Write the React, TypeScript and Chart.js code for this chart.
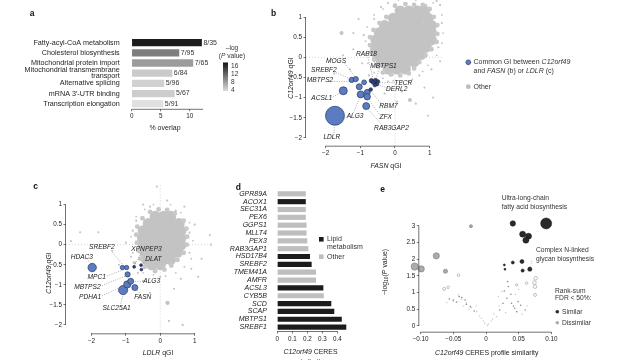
import React, { useEffect, useRef } from 'react';
import { Chart, registerables } from 'chart.js';
Chart.register(...registerables);

const W = 632;
const H = 360;
const FONT = "'Liberation Sans', Arial, Helvetica, sans-serif";
const INK = '#222';
const AXIS = '#444';
const TICK_FS = 6.3;
const LAB_FS = 6.6;

// ---------------- panel a ----------------
const aCategories = [
  ['Fatty-acyl-CoA metabolism'],
  ['Cholesterol biosynthesis'],
  ['Mitochondrial protein import'],
  ['Mitochondrial transmembrane', 'transport'],
  ['Alternative splicing'],
  ['mRNA 3\u2032-UTR binding'],
  ['Transcription elongation'],
];
const aOverlap = [12.1, 8.2, 10.6, 7.0, 5.6, 7.4, 5.45];
const aCounts = ['8/35', '7/95', '7/65', '6/84', '5/96', '5/67', '5/91'];
const aLogP = [16.5, 10, 8, 5, 4.5, 4.8, 3.5];
const aTicks = [0, 5, 10];
const aTickLabels = ['0', '5', '10'];
const aColorbarTicks = [16, 12, 8, 4];

// ---------------- panel b ----------------
const bBlue = [
  [-1.73, -1.45, 9.5], [-1.49, -0.83, 4], [-0.99, -0.92, 3.5], [-0.80, -0.87, 3],
  [-0.80, -0.98, 3.2], [-0.83, -1.21, 3.5], [-1.03, -0.73, 3], [-1.25, -0.56, 2.6],
  [-1.13, -0.54, 2.6], [-0.89, -0.62, 2.4],
];
const bDark = [
  [-0.68, -0.58, 2.2], [-0.62, -0.62, 2.2], [-0.56, -0.57, 2], [-0.52, -0.66, 2],
  [-0.58, -0.69, 1.8], [-0.70, -0.80, 1.8], [-0.49, -0.60, 1.8],
];
const bCloud = [
  [0.15, 1.15], [0.4, 1.15], [0.65, 1.15], [0.85, 1.15],
  [-0.05, 0.97], [0.2, 0.97], [0.45, 0.97], [0.7, 0.97], [0.95, 0.97],
  [-0.3, 0.79], [-0.05, 0.79], [0.2, 0.79], [0.45, 0.79], [0.7, 0.79], [0.95, 0.79], [1.05, 0.79],
  [-0.45, 0.61], [-0.2, 0.61], [0.05, 0.61], [0.3, 0.61], [0.55, 0.61], [0.8, 0.61], [1.05, 0.61],
  [-0.55, 0.43], [-0.3, 0.43], [-0.05, 0.43], [0.2, 0.43], [0.45, 0.43], [0.7, 0.43], [0.95, 0.43], [1.05, 0.43],
  [-0.55, 0.25], [-0.3, 0.25], [-0.05, 0.25], [0.2, 0.25], [0.45, 0.25], [0.7, 0.25], [0.9, 0.25],
  [-0.5, 0.07], [-0.25, 0.07], [0.0, 0.07], [0.25, 0.07], [0.5, 0.07], [0.75, 0.07],
  [-0.4, -0.11], [-0.15, -0.11], [0.1, -0.11], [0.35, -0.11], [0.55, -0.11],
  [-0.2, -0.29], [0.05, -0.29], [0.3, -0.29],
];
const bRim = [
  [0.0, 1.28], [0.3, 1.32], [0.55, 1.3], [0.8, 1.3], [1.0, 1.2],
  [-0.25, 1.0], [-0.45, 0.85], [-0.62, 0.68], [-0.72, 0.5], [-0.72, 0.3], [-0.68, 0.12], [-0.6, -0.05],
  [-0.5, -0.22], [-0.35, -0.38], [-0.1, -0.42], [0.15, -0.45], [0.4, -0.4], [0.55, -0.28], [0.7, -0.12],
  [0.88, 0.05], [1.05, 0.2], [1.2, 0.38], [1.22, 0.58], [1.22, 0.8], [1.12, 1.0],
];
const bScatter = [
  [-1.5, 0.05, 1.1], [-1.2, 0.2, 1.1], [-1.05, 0.95, 1.1], [-0.9, 0.55, 1.1], [-0.95, -0.15, 1.1],
  [-1.3, -0.3, 1.1], [-0.75, -0.45, 1.1], [-0.6, 0.95, 1.1], [-0.4, 1.25, 1.1], [-0.2, 1.35, 1.1],
  [1.3, 1.3, 1.1], [1.25, 0.25, 1.1], [1.3, -0.1, 1.1], [1.05, -0.3, 1.1], [0.7, -0.45, 1.1],
  [0.4, -0.6, 1.1], [0.85, -0.75, 1.1], [0.6, -1.15, 1.1], [0.95, -1.45, 1.1], [1.1, -1.0, 1.1],
  [0.2, -0.85, 1.1], [-0.2, -0.6, 1.1], [-0.45, -0.25, 1.1], [-1.2, 0.6, 1.1], [-1.75, -0.4, 1.1],
  [0.05, -1.1, 1.1], [-0.3, -0.9, 1.1], [1.35, 0.85, 1.1], [1.2, 1.4, 1.1], [-1.54, 0.6, 2],
  [0.43, -1.06, 2], [-0.7, 0.2, 1.1], [-0.6, -0.1, 1.1], [1.15, 0.6, 1.1], [0.9, 1.3, 1.1],
  [-0.15, -0.45, 1.1],
  [-0.85, 0.4, 0.9], [-0.8, 0.75, 0.9], [-0.6, 1.05, 0.9], [-0.35, 1.2, 0.9], [0.1, 1.42, 0.9],
  [0.6, 1.42, 0.9], [1.1, 1.35, 0.9], [1.35, 1.05, 0.9], [1.38, 0.6, 0.9], [1.35, 0.35, 0.9],
  [1.2, 0.05, 0.9], [0.95, -0.2, 0.9], [0.8, -0.35, 0.9], [0.5, -0.55, 0.9], [0.2, -0.6, 0.9],
  [-0.05, -0.58, 0.9], [-0.35, -0.52, 0.9], [-0.6, -0.38, 0.9], [-0.78, -0.15, 0.9], [-0.85, 0.1, 0.9],
];
const bLabels = ['RAB18', 'MBTPS1', 'MOGS', 'SREBF2', 'MBTPS2', 'TECR', 'DERL2', 'ACSL1', 'RBM7', 'ALG3', 'ZFX', 'RAB3GAP2', 'LDLR'];
const bXTicks = [-2, -1, 0, 1];
const bXTickLabels = ['\u22122', '\u22121', '0', '1'];
const qYTicks = [1, 0.5, 0, -0.5, -1, -1.5, -2];
const qYTickLabels = ['1', '0.5', '0', '\u22120.5', '\u22121', '\u22121.5', '\u22122'];

// ---------------- panel c ----------------
const cBlue = [
  [-1.98, -0.57, 4.2], [-1.08, -1.13, 4.6], [-0.96, -0.99, 3.6], [-0.86, -0.91, 3],
  [-0.95, -0.74, 2.6], [-0.74, -1.07, 3], [-1.10, -0.57, 2.2], [-0.98, -0.57, 2.2],
];
const cDark = [[-0.76, -0.55, 1.5], [-0.56, -0.51, 1.4], [-0.55, -0.62, 1.4]];
const cCloud = [
  [-0.15, 0.71], [0.1, 0.71], [0.3, 0.71],
  [-0.35, 0.53], [-0.1, 0.53], [0.15, 0.53], [0.4, 0.53], [0.55, 0.53],
  [-0.5, 0.35], [-0.25, 0.35], [0.0, 0.35], [0.25, 0.35], [0.5, 0.35], [0.6, 0.35],
  [-0.52, 0.17], [-0.3, 0.17], [-0.05, 0.17], [0.2, 0.17], [0.45, 0.17], [0.6, 0.17],
  [-0.5, -0.01], [-0.25, -0.01], [0.0, -0.01], [0.25, -0.01], [0.5, -0.01], [0.6, -0.01],
  [-0.45, -0.19], [-0.2, -0.19], [0.05, -0.19], [0.3, -0.19], [0.5, -0.19],
  [-0.4, -0.37], [-0.15, -0.37], [0.1, -0.37], [0.3, -0.37],
  [-0.25, -0.5], [0.0, -0.5],
];
const cRim = [
  [-0.3, 0.82], [-0.05, 0.88], [0.2, 0.87], [0.42, 0.78], [-0.52, 0.66], [-0.67, 0.45], [-0.7, 0.25],
  [-0.68, 0.05], [-0.63, -0.15], [-0.58, -0.35], [-0.45, -0.55], [-0.15, -0.66], [0.12, -0.62],
  [0.32, -0.52], [0.5, -0.38], [0.68, -0.2], [0.77, 0.0], [0.78, 0.2], [0.76, 0.4], [0.68, 0.6],
];
const cScatter = [
  [-0.1, 1.45, 1.1], [0.2, 1.1, 1.1], [-0.5, 1.0, 1.1], [0.7, 0.95, 1.1], [1.0, 0.5, 1.1],
  [1.44, 0.24, 1.1], [1.47, 0.0, 1.1], [1.2, -0.35, 1.1], [0.9, -0.6, 1.1], [0.6, -0.85, 1.1],
  [0.4, -1.1, 1.1], [0.65, -2.0, 1.1], [0.25, -1.9, 1.1], [-0.3, -1.2, 1.1], [-0.5, -0.9, 1.1],
  [-0.8, 0.35, 1.1], [-1.0, 0.05, 1.1], [-1.4, -0.15, 1.1], [-1.8, 0.31, 1.1], [-2.33, 0.31, 1.1],
  [-2.6, 0.09, 1.1], [-0.75, -0.45, 1.8], [-0.85, -0.3, 1.1], [-0.65, -0.7, 1.1], [0.85, 0.3, 1.1],
  [0.85, -0.2, 1.1], [-0.3, 0.95, 1.1], [0.45, 0.85, 1.1], [-0.7, 0.6, 1.1], [1.1, -0.8, 1.1],
  [0.0, -0.8, 1.1], [-1.2, -0.5, 1.1], [0.21, -1.45, 2.2],
  [-0.2, 1.0, 0.9], [0.3, 1.0, 0.9], [0.6, 0.8, 0.9], [0.85, 0.55, 0.9], [0.95, 0.1, 0.9],
  [0.9, -0.35, 0.9], [0.7, -0.55, 0.9], [0.45, -0.7, 0.9], [0.15, -0.78, 0.9], [-0.2, -0.75, 0.9],
  [-0.5, -0.7, 0.9], [-0.8, -0.2, 0.9], [-0.85, 0.2, 0.9], [-0.7, 0.7, 0.9], [-0.45, 0.88, 0.9],
];
const cLabels = ['SREBF2', 'XPNPEP3', 'HDAC3', 'DLAT', 'MPC1', 'ALG3', 'MBTPS2', 'PDHA1', 'FASN', 'SLC25A1'];

// ---------------- panel d ----------------
const dCategories = ['GPR89A', 'ACOX1', 'SEC31A', 'PEX6', 'GGPS1', 'MLLT4', 'PEX3', 'RAB3GAP1', 'HSD17B4', 'SREBF2', 'TMEM41A', 'AMFR', 'ACSL3', 'CYB5B', 'SCD', 'SCAP', 'MBTPS1', 'SREBF1'];
const dValues = [0.19, 0.19, 0.19, 0.19, 0.195, 0.195, 0.2, 0.207, 0.218, 0.229, 0.258, 0.258, 0.307, 0.31, 0.36, 0.38, 0.43, 0.46];
const dLipid = [0, 1, 0, 0, 0, 0, 0, 0, 1, 1, 0, 0, 1, 0, 1, 1, 1, 1];
const dTicks = [0, 0.1, 0.2, 0.3, 0.4];
const dTickLabels = ['0', '0.1', '0.2', '0.3', '0.4'];

// ---------------- panel e ----------------
const eSimilar = [
  [0.041, 3.07, 2.7], [0.092, 3.07, 5.5], [0.056, 2.75, 3], [0.065, 2.69, 3], [0.061, 2.57, 3],
  [0.041, 1.90, 1.5], [0.055, 1.93, 2], [0.028, 1.83, 1], [0.029, 1.70, 1], [0.056, 1.66, 1.6], [0.067, 1.70, 2.1],
];
const eDissimilarFilled = [
  [-0.109, 1.78, 3.6], [-0.099, 1.71, 3.1], [-0.076, 2.10, 3.1], [-0.062, 1.64, 2.1], [-0.023, 2.99, 1.5],
];
const eDissimilarOpen = [
  [-0.042, 1.52, 1.3], [-0.064, 1.11, 1.5], [-0.058, 1.16, 1.3], [0.076, 1.43, 1.8], [0.074, 1.30, 1.8],
  [0.075, 1.18, 1.8], [0.075, 0.93, 1.5], [0.062, 1.28, 1.3], [0.047, 1.23, 1.2],
];
const eDots = [
  [-0.056, 0.81], [-0.050, 0.78], [-0.041, 0.88], [-0.037, 0.85], [-0.032, 0.78], [-0.024, 0.58],
  [-0.045, 0.72], [-0.03, 0.65], [-0.018, 0.45], [0.034, 1.18], [0.033, 1.33], [0.026, 0.68],
  [0.039, 0.68], [0.044, 0.53], [0.049, 0.73], [0.047, 0.43], [0.06, 0.48], [0.032, 0.83],
  [0.021, 0.48], [0.038, 0.95], [0.042, 0.6], [0.053, 0.62], [0.028, 1.05],
];
const eFaint = [
  [-0.042, 0.93], [-0.037, 0.80], [-0.05, 0.75], [-0.03, 0.70], [-0.022, 0.55], [-0.014, 0.43],
  [-0.007, 0.23], [-0.002, 0.08], [0.004, 0.06], [0.016, 0.28], [0.019, 0.88], [0.024, 1.03],
  [-0.06, 0.7], [-0.01, 0.3], [0.008, 0.15], [0.012, 0.35], [-0.004, 0.15], [0.002, 0.02],
  [0.03, 0.4], [0.055, 0.35], [0.063, 0.6], [-0.026, 0.5], [0.045, 0.95], [0.05, 1.1],
  [-0.015, 0.6], [0.01, 0.2], [-0.035, 0.6], [0.02, 0.6],
];
const eXTicks = [-0.1, -0.05, 0, 0.05, 0.1];
const eXTickLabels = ['\u22120.10', '\u22120.05', '0', '0.05', '0.10'];
const eYTicks = [0, 0.5, 1, 1.5, 2, 2.5, 3];
const eYTickLabels = ['0', '0.5', '1', '1.5', '2', '2.5', '3'];

// ---------------- helpers ----------------
type Seg = [string, string?];

function rich(ctx: any, segs: Seg[], x: number, y: number, size: number, align = 'left', color = INK, rot = 0) {
  ctx.save();
  ctx.translate(x, y);
  if (rot) ctx.rotate(rot);
  ctx.fillStyle = color;
  ctx.textBaseline = 'middle';
  ctx.textAlign = 'left';
  const fonts = segs.map(([, f = '']) =>
    `${f.includes('i') ? 'italic ' : ''}${f.includes('b') ? 'bold ' : ''}${f.includes('s') ? size * 0.72 : size}px ${FONT}`);
  let total = 0;
  const ws = segs.map(([t], k) => { ctx.font = fonts[k]; const w = ctx.measureText(t).width; total += w; return w; });
  let cx = align === 'left' ? 0 : align === 'center' ? -total / 2 : -total;
  segs.forEach(([t, f = ''], k) => {
    ctx.font = fonts[k];
    ctx.fillText(t, cx, f.includes('s') ? size * 0.3 : 0);
    cx += ws[k];
  });
  ctx.restore();
}

function dotted(ctx: any, pts: number[][], sx: any, sy: any, color = '#777') {
  ctx.save();
  ctx.strokeStyle = color;
  ctx.lineWidth = 0.6;
  ctx.setLineDash([1, 1.4]);
  pts.forEach(([x1, y1, x2, y2]) => {
    ctx.beginPath();
    ctx.moveTo(sx(x1), sy(y1));
    ctx.lineTo(sx(x2), sy(y2));
    ctx.stroke();
  });
  ctx.restore();
}

function axisLines(chart: any, xr: number[] | null, yr: number[] | null) {
  const { ctx, chartArea: ca, scales } = chart;
  ctx.save();
  ctx.strokeStyle = AXIS;
  ctx.lineWidth = 0.75;
  ctx.setLineDash([]);
  if (xr) {
    ctx.beginPath();
    ctx.moveTo(scales.x.getPixelForValue(xr[0]), ca.bottom + 0.5);
    ctx.lineTo(scales.x.getPixelForValue(xr[1]), ca.bottom + 0.5);
    ctx.stroke();
  }
  if (yr) {
    ctx.beginPath();
    ctx.moveTo(ca.left - 0.5, scales.y.getPixelForValue(yr[0]));
    ctx.lineTo(ca.left - 0.5, scales.y.getPixelForValue(yr[1]));
    ctx.stroke();
  }
  ctx.restore();
}

function letter(ctx: any, t: string, x: number, y: number) {
  rich(ctx, [[t, 'b']], x, y, 8.5, 'center', '#111');
}

function labelsAt(ctx: any, texts: string[], pos: number[][], sx: any, sy: any) {
  texts.forEach((t, k) => rich(ctx, [[t, 'i']], sx(pos[k][0]), sy(pos[k][1]), LAB_FS, 'center', INK));
}

const mkLin = (min: number, max: number, ticks: number[], labels: string[], isX: boolean, size: number) => ({
  type: 'linear', min, max,
  afterBuildTicks: (s: any) => { s.ticks = ticks.map((v) => ({ value: v })); },
  afterFit: (s: any) => {
    if (isX) { s.height = size; s.paddingLeft = 0; s.paddingRight = 0; }
    else { s.width = size; s.paddingTop = 0; s.paddingBottom = 0; }
  },
  ticks: {
    autoSkip: false, maxRotation: 0, minRotation: 0, padding: 1.5, color: INK,
    font: { family: FONT, size: TICK_FS },
    callback: (v: any) => { const k = ticks.indexOf(v); return k >= 0 ? labels[k] : ''; },
  },
  grid: { display: true, drawOnChartArea: false, drawTicks: true, tickLength: 2.5, color: AXIS, lineWidth: 0.7 },
  border: { display: false },
});

const mkCat = (size: number, font: any, pad: number) => ({
  type: 'category',
  afterFit: (s: any) => { s.width = size; s.paddingTop = 0; s.paddingBottom = 0; },
  ticks: { autoSkip: false, padding: pad, color: INK, font },
  grid: { display: false },
  border: { display: false },
});

const base = (l: number, t: number, r: number, b: number, yW: number, xH: number) => ({
  responsive: false,
  animation: false,
  devicePixelRatio: 1,
  events: [],
  layout: { autoPadding: false, padding: { left: l - yW, top: t, right: W - r, bottom: H - b - xH } },
  plugins: { legend: { display: false }, tooltip: { enabled: false }, title: { display: false } },
});

const bub = (data: number[][], fill: string, stroke: string, bw: number, order: number, fixedR?: number) => ({
  type: 'bubble',
  data: data.map((p) => ({ x: p[0], y: p[1], r: fixedR !== undefined ? fixedR : p[2] })),
  backgroundColor: fill,
  borderColor: stroke,
  borderWidth: bw,
  order,
  clip: false,
});

const grayFor = (v: number) => {
  const t = Math.max(0, Math.min(1, (v - 3) / 14));
  const g = Math.round(232 - t * 212);
  return `rgb(${g},${g},${g})`;
};

const BLUE = '#5b7cc0';
const BLUE_EDGE = '#26396a';
const NAVY = '#2f4373';
const CLOUD = '#c3c3c3';

// ---------------- configs ----------------
function configA(): any {
  return {
    type: 'bar',
    data: {
      labels: aCategories,
      datasets: [{ data: aOverlap, backgroundColor: aLogP.map(grayFor), barPercentage: 0.72, categoryPercentage: 1, clip: false }],
    },
    options: {
      ...base(131.7, 37.6, 204.2, 108.8, 115, 16),
      indexAxis: 'y',
      scales: {
        x: mkLin(0, 12.5, aTicks, aTickLabels, true, 16),
        y: mkCat(115, { family: FONT, size: 7.2, lineHeight: 0.85 }, 4),
      },
    },
    plugins: [{
      id: 'a-extras',
      afterDraw(chart: any) {
        const { ctx, scales: { x, y } } = chart;
        axisLines(chart, [0, 12.3], null);
        aCounts.forEach((t, k) => rich(ctx, [[t]], x.getPixelForValue(aOverlap[k]) + 1.5, y.getPixelForValue(k), 7, 'left', '#333'));
        rich(ctx, [['% overlap']], 165, 128, 7, 'center');
        letter(ctx, 'a', 32, 13.5);
        const cb = { x: 223, y0: 62.5, y1: 91, w: 5, vmax: 18, vmin: 3.8 };
        const g = ctx.createLinearGradient(0, cb.y0, 0, cb.y1);
        g.addColorStop(0, grayFor(cb.vmax));
        g.addColorStop(1, grayFor(cb.vmin));
        ctx.fillStyle = g;
        ctx.fillRect(cb.x, cb.y0, cb.w, cb.y1 - cb.y0);
        aColorbarTicks.forEach((v) => {
          const py = cb.y0 + ((cb.vmax - v) / (cb.vmax - cb.vmin)) * (cb.y1 - cb.y0);
          rich(ctx, [[String(v)]], cb.x + cb.w + 3, py, 6.6, 'left', '#333');
        });
        rich(ctx, [['\u2013log']], 232, 48, 6.6, 'center', '#333');
        rich(ctx, [['(', ''], ['P', 'i'], [' value)', '']], 232, 56.5, 6.6, 'center', '#333');
      },
    }],
  };
}

function qScatterConfig(
  area: number[], xmin: number, xmax: number, ymin: number, ymax: number,
  blue: number[][], dark: number[][], cloud: number[][], rim: number[][], scatter: number[][], extras: (chart: any) => void,
): any {
  const [l, t, r, b] = area;
  return {
    type: 'bubble',
    data: {
      datasets: [
        bub(dark, NAVY, '#1b2748', 0.6, 0),
        bub(blue, BLUE, BLUE_EDGE, 0.7, 1),
        bub(scatter, '#c4c4c4', '#c4c4c4', 0, 2),
        bub(rim, '#c8c8c8', '#c8c8c8', 0, 3, 2.4),
        bub(cloud, CLOUD, CLOUD, 0, 4, 5.5),
      ],
    },
    options: {
      ...base(l, t, r, b, 30, 16),
      scales: {
        x: mkLin(xmin, xmax, bXTicks, bXTickLabels, true, 16),
        y: mkLin(ymin, ymax, qYTicks, qYTickLabels, false, 30),
      },
    },
    plugins: [{
      id: 'q-extras',
      beforeDatasetsDraw(chart: any) {
        const { ctx, scales: { x, y } } = chart;
        ctx.save();
        ctx.strokeStyle = '#bbb';
        ctx.lineWidth = 0.6;
        ctx.setLineDash([1, 2]);
        ctx.beginPath();
        ctx.moveTo(x.getPixelForValue(xmin), y.getPixelForValue(0));
        ctx.lineTo(x.getPixelForValue(xmax), y.getPixelForValue(0));
        ctx.moveTo(x.getPixelForValue(0), y.getPixelForValue(ymin));
        ctx.lineTo(x.getPixelForValue(0), y.getPixelForValue(ymax));
        ctx.stroke();
        ctx.restore();
      },
      afterDraw(chart: any) {
        axisLines(chart, [-2, 1], [-2, 1]);
        extras(chart);
      },
    }],
  };
}

function configB(): any {
  const pos = [[-0.82, 0.08], [-0.33, -0.21], [-1.70, -0.09], [-2.05, -0.33], [-2.16, -0.56], [0.24, -0.63], [0.05, -0.79],
    [-2.11, -1.02], [-0.19, -1.21], [-1.15, -1.46], [-0.27, -1.49], [-0.10, -1.75], [-1.82, -1.97]];
  const links = [[-1.45, -0.15, -1.12, -0.52], [-1.7, -0.38, -1.25, -0.55], [-1.75, -0.6, -1.3, -0.6], [-0.78, 0.0, -0.62, -0.58],
    [-0.45, -0.28, -0.56, -0.56], [0.0, -0.63, -0.5, -0.63], [-0.15, -0.78, -0.52, -0.67], [-1.85, -1.0, -1.55, -0.88],
    [-0.38, -1.18, -0.7, -0.82], [-0.42, -1.45, -0.8, -1.0], [-0.35, -1.7, -0.83, -1.24], [-1.2, -1.38, -1.0, -0.97],
    [-1.76, -1.88, -1.74, -1.7]];
  return qScatterConfig([306, 1, 441.8, 145.7], -2.565, 1.349, -2.193, 1.397, bBlue, bDark, bCloud, bRim, bScatter, (chart) => {
    const { ctx, scales: { x, y } } = chart;
    const sx = (v: number) => x.getPixelForValue(v);
    const sy = (v: number) => y.getPixelForValue(v);
    dotted(ctx, links, sx, sy);
    labelsAt(ctx, bLabels, pos, sx, sy);
    rich(ctx, [['FASN', 'i'], [' qGI', '']], 386, 166.5, 6.9, 'center');
    rich(ctx, [['C12orf49', 'i'], [' qGI', '']], 291, 78, 6.9, 'center', INK, -Math.PI / 2);
    letter(ctx, 'b', 273.5, 13.5);
    ctx.save();
    ctx.fillStyle = BLUE; ctx.strokeStyle = BLUE_EDGE; ctx.lineWidth = 0.7;
    ctx.beginPath(); ctx.arc(468.3, 62.3, 2.4, 0, Math.PI * 2); ctx.fill(); ctx.stroke();
    ctx.fillStyle = '#bdbdbd';
    ctx.beginPath(); ctx.arc(468.3, 86.7, 2.4, 0, Math.PI * 2); ctx.fill();
    ctx.restore();
    rich(ctx, [['Common GI between ', ''], ['C12orf49', 'i']], 473.5, 62.3, 7, 'left', '#333');
    rich(ctx, [['and ', ''], ['FASN', 'i'], [' (b) or ', ''], ['LDLR', 'i'], [' (c)', '']], 473.5, 71, 7, 'left', '#333');
    rich(ctx, [['Other']], 473.5, 86.7, 7, 'left', '#333');
  });
}

function configC(): any {
  const pos = [[-1.70, -0.07], [-0.40, -0.10], [-2.28, -0.32], [-0.20, -0.36], [-1.85, -0.80], [-0.25, -0.92],
    [-2.12, -1.05], [-2.04, -1.30], [-0.51, -1.30], [-1.27, -1.57]];
  const links = [[-1.4, -0.18, -1.05, -0.55], [-0.55, -0.2, -0.76, -0.53], [-2.1, -0.4, -1.98, -0.5], [-0.42, -0.38, -0.54, -0.51],
    [-1.55, -0.78, -1.0, -0.6], [-0.5, -0.92, -0.84, -0.91], [-1.7, -1.02, -0.95, -0.76], [-1.7, -1.27, -0.98, -1.0],
    [-0.6, -1.2, -0.72, -1.1], [-1.15, -1.47, -1.08, -1.25]];
  return qScatterConfig([66, 185, 213, 333.3], -2.741, 1.532, -2.209, 1.489, cBlue, cDark, cCloud, cRim, cScatter, (chart) => {
    const { ctx, scales: { x, y } } = chart;
    const sx = (v: number) => x.getPixelForValue(v);
    const sy = (v: number) => y.getPixelForValue(v);
    dotted(ctx, links, sx, sy);
    labelsAt(ctx, cLabels, pos, sx, sy);
    rich(ctx, [['LDLR', 'i'], [' qGI', '']], 158, 352.7, 6.9, 'center');
    rich(ctx, [['C12orf49', 'i'], [' qGI', '']], 49.5, 273, 6.9, 'center', INK, -Math.PI / 2);
    letter(ctx, 'c', 35.5, 186.7);
  });
}

function configD(): any {
  return {
    type: 'bar',
    data: {
      labels: dCategories,
      datasets: [{ data: dValues, backgroundColor: dLipid.map((v) => (v ? '#1c1c1c' : '#bebebe')), barPercentage: 0.66, categoryPercentage: 1, clip: false }],
    },
    options: {
      ...base(277.3, 189.9, 352.3, 331, 60, 16),
      indexAxis: 'y',
      scales: {
        x: mkLin(0, 0.5, dTicks, dTickLabels, true, 16),
        y: mkCat(60, { family: FONT, size: 7, style: 'italic' }, 2.5),
      },
    },
    plugins: [{
      id: 'd-extras',
      afterDraw(chart: any) {
        const { ctx } = chart;
        axisLines(chart, [0, 0.4], null);
        rich(ctx, [['C12orf49', 'i'], [' CERES', '']], 310.5, 352, 6.9, 'center');
        rich(ctx, [['similarity']], 310.5, 362, 6.9, 'center');
        letter(ctx, 'd', 238.3, 187.3);
        ctx.save();
        ctx.fillStyle = '#1c1c1c'; ctx.fillRect(319, 237, 4.6, 4.6);
        ctx.fillStyle = '#bebebe'; ctx.fillRect(319, 254.4, 4.6, 4.6);
        ctx.restore();
        rich(ctx, [['Lipid']], 327, 239.3, 7, 'left', '#333');
        rich(ctx, [['metabolism']], 327, 247.5, 7, 'left', '#333');
        rich(ctx, [['Other']], 327, 256.7, 7, 'left', '#333');
      },
    }],
  };
}

function configE(): any {
  const l = 419.3, t = 190, r = 560, b = 331.7;
  return {
    type: 'bubble',
    data: {
      datasets: [
        bub(eSimilar, '#2a2a2a', '#111', 0.5, 0),
        bub(eDissimilarFilled, '#ababab', '#7a7a7a', 0.6, 1),
        bub(eDissimilarOpen, 'rgba(0,0,0,0)', '#a5a5a5', 0.7, 2),
        bub(eDots, '#8a8a8a', '#8a8a8a', 0, 3, 0.8),
        bub(eFaint, '#cfcfcf', '#cfcfcf', 0, 4, 0.8),
      ],
    },
    options: {
      ...base(l, t, r, b, 22, 16),
      scales: {
        x: mkLin(-0.10199, 0.11315, eXTicks, eXTickLabels, true, 16),
        y: mkLin(-0.1707, 4.072, eYTicks, eYTickLabels, false, 22),
      },
    },
    plugins: [{
      id: 'e-extras',
      afterDraw(chart: any) {
        const { ctx, scales: { x, y } } = chart;
        const sx = (v: number) => x.getPixelForValue(v);
        const sy = (v: number) => y.getPixelForValue(v);
        axisLines(chart, [-0.1, 0.1], [0, 3]);
        dotted(ctx, [[0.07, 1.95, 0.068, 1.76]], sx, sy, '#888');
        rich(ctx, [['Ultra-long-chain']], 501.7, 198.3, 6.7, 'left', '#333');
        rich(ctx, [['fatty acid biosynthesis']], 501.7, 207.3, 6.7, 'left', '#333');
        rich(ctx, [['Complex N-linked']], 536, 250.5, 6.7, 'left', '#333');
        rich(ctx, [['glycan biosynthesis']], 536, 259.5, 6.7, 'left', '#333');
        rich(ctx, [['C12orf49', 'i'], [' CERES profile similarity', '']], 486.7, 352.7, 6.9, 'center');
        rich(ctx, [['\u2212log', ''], ['10', 's'], ['(', ''], ['P', 'i'], [' value)', '']], 385, 272, 6.9, 'center', INK, -Math.PI / 2);
        letter(ctx, 'e', 382.7, 189.3);
        rich(ctx, [['Rank-sum']], 555, 291, 6.7, 'left', '#333');
        rich(ctx, [['FDR < 50%:']], 555, 298.5, 6.7, 'left', '#333');
        ctx.save();
        ctx.fillStyle = '#2a2a2a';
        ctx.beginPath(); ctx.arc(557.3, 311.7, 1.8, 0, Math.PI * 2); ctx.fill();
        ctx.fillStyle = '#ababab';
        ctx.beginPath(); ctx.arc(557.3, 322.7, 1.8, 0, Math.PI * 2); ctx.fill();
        ctx.restore();
        rich(ctx, [['Similar']], 562, 311.7, 6.7, 'left', '#333');
        rich(ctx, [['Dissimilar']], 562, 322.7, 6.7, 'left', '#333');
      },
    }],
  };
}

export default function App() {
  const refs = [useRef<HTMLCanvasElement>(null), useRef<HTMLCanvasElement>(null), useRef<HTMLCanvasElement>(null),
    useRef<HTMLCanvasElement>(null), useRef<HTMLCanvasElement>(null)];
  useEffect(() => {
    const makers = [configA, configB, configC, configD, configE];
    const charts = makers.map((mk, k) => new Chart(refs[k].current as HTMLCanvasElement, mk()));
    return () => charts.forEach((c) => c.destroy());
  }, []);
  return (
    <div style={{ position: 'fixed', left: 0, top: 0, width: W, height: H, background: '#fff', overflow: 'hidden' }}>
      {refs.map((r, k) => (
        <canvas key={k} ref={r} width={W} height={H} style={{ position: 'absolute', left: 0, top: 0, width: W, height: H }} />
      ))}
    </div>
  );
}
